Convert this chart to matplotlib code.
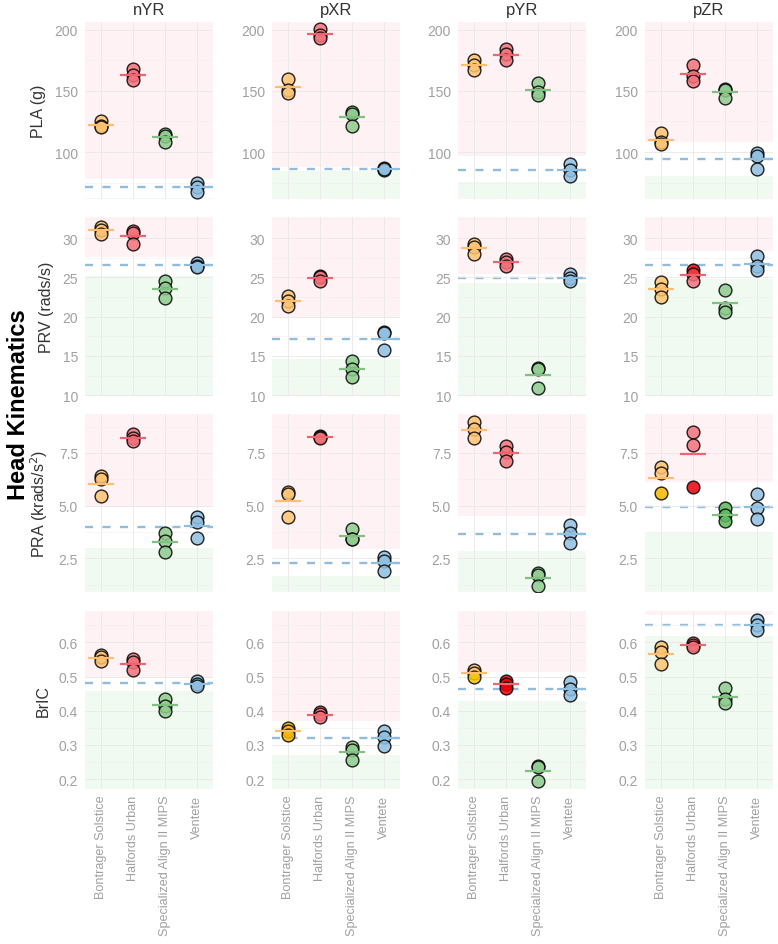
import numpy as np
import matplotlib.pyplot as plt
from matplotlib.ticker import FormatStrFormatter, FixedLocator

plt.rcParams['font.family'] = ['Liberation Sans', 'DejaVu Sans']

helmets = ["Bontrager Solstice", "Halfords Urban", "Specialized Align II MIPS", "Ventete"]
axes_names = ["nYR", "pXR", "pYR", "pZR"]
metrics = ["PLA (g)", "PRV (rads/s)", "PRA (krads/s$^2$)", "BrIC"]

# trial values, per axis -> per helmet
PLA = [
    [[125, 121.5, 120.5], [168, 163, 159], [115, 113, 108.5], [75, 71, 67]],
    [[159.5, 151, 148.5], [201, 196, 193], [132.5, 131, 121.5], [86.5, 85.5, 86]],
    [[175, 171, 167.5], [184, 180, 175], [156.5, 149, 147], [90, 85, 80.5]],
    [[115.5, 108, 106.5], [171.5, 162, 158], [151.5, 151, 144], [99, 97, 86]],
]
PRV = [
    [[31.4, 31.1, 30.5], [30.9, 30.7, 29.2], [24.6, 23.6, 22.4], [26.9, 26.5, 26.3]],
    [[22.7, 22.0, 21.4], [25.2, 25.0, 24.6], [14.4, 13.3, 12.3], [18.0, 17.9, 15.7]],
    [[29.2, 28.9, 28.0], [27.3, 27.0, 26.5], [13.5, 13.4, 10.9], [25.4, 24.9, 24.5]],
    [[24.4, 23.5, 22.5], [26.0, 25.5, 24.6], [23.4, 21.1, 20.6], [27.7, 26.4, 26.0]],
]
PRA = [
    [[6.4, 6.25, 5.45], [8.4, 8.2, 8.05], [3.7, 3.3, 2.8], [4.45, 4.2, 3.45]],
    [[5.65, 5.55, 4.45], [8.3, 8.25, 8.2], [3.9, 3.42, 3.42], [2.55, 2.35, 1.92]],
    [[8.95, 8.65, 8.2], [7.85, 7.55, 7.1], [1.8, 1.7, 1.2], [4.1, 3.7, 3.22]],
    [[6.85, 6.55, 5.6], [8.5, 7.9, 5.9], [4.9, 4.55, 4.25], [5.55, 4.9, 4.35]],
]
BrIC = [
    [[0.562, 0.556, 0.546], [0.552, 0.543, 0.518], [0.435, 0.415, 0.40], [0.487, 0.478, 0.473]],
    [[0.35, 0.34, 0.33], [0.396, 0.39, 0.381], [0.295, 0.285, 0.255], [0.342, 0.322, 0.296]],
    [[0.52, 0.51, 0.50], [0.488, 0.477, 0.468], [0.238, 0.236, 0.193], [0.483, 0.463, 0.445]],
    [[0.588, 0.572, 0.538], [0.598, 0.592, 0.586], [0.466, 0.433, 0.424], [0.665, 0.65, 0.636]],
]
all_data = [PLA, PRV, PRA, BrIC]

# reference band per panel: (upper, reference, lower)
bands = [
    [(77.9, 71.1, 62.3), (87.7, 86.1, 84.7), (97.0, 85.5, 75.7), (108, 94.3, 80.6)],
    [(27.55, 26.57, 25.2), (19.8, 17.2, 14.6), (25.4, 24.9, 24.25), (28.4, 26.6, 24.8)],
    [(4.95, 4.0, 2.98), (2.94, 2.28, 1.65), (4.5, 3.67, 2.86), (6.14, 4.92, 3.74)],
    [(0.497, 0.48, 0.458), (0.37, 0.32, 0.27), (0.512, 0.465, 0.429), (0.68, 0.65, 0.618)],
]

ylims = [(61.5, 206.5), (9.9, 32.7), (0.9, 9.35), (0.171, 0.692)]
yticks = [[100, 150, 200], [10, 15, 20, 25, 30], [2.5, 5.0, 7.5], [0.2, 0.3, 0.4, 0.5, 0.6]]
yfmt = ['%d', '%d', '%.1f', '%.1f']

fills = ["#FDC474", "#F2727A", "#8FCB8F", "#8FBFE0"]
lines = ["#FDBF6F", "#EE6470", "#80C080", "#8FBFE0"]
edge_alpha = [0.4, 0.4, 0.4, 0.75]

# points drawn in stronger colours: (row, col, helmet, trial, colour)
strong = [
    (3, 3, 0, 2, "#F5B800"), (3, 3, 1, 2, "#E8000B"),
    (3, 3, 2, 0, "#5CB85C"), (3, 3, 2, 1, "#5CB85C"), (3, 3, 2, 2, "#5CB85C"),
    (4, 1, 0, 0, "#F5B800"), (4, 1, 0, 1, "#F5B800"), (4, 1, 0, 2, "#F5B800"),
    (4, 2, 0, 2, "#F5C800"), (4, 2, 1, 0, "#E8000B"), (4, 2, 1, 1, "#E8000B"), (4, 2, 1, 2, "#E8000B"),
    (2, 3, 1, 0, "#E8000B"), (2, 3, 1, 1, "#E84040"),
]

fig = plt.figure(figsize=(7.78, 9.45), dpi=100)
W, H = 778.0, 945.0
col_x = [85, 272, 458, 645]
row_y = [(23, 200), (218, 397), (415, 593), (612, 790)]
pw = 128

xs = np.arange(1, 5)
for r in range(4):
    for c in range(4):
        top, bot = row_y[r]
        ax = fig.add_axes([col_x[c] / W, 1 - bot / H, pw / W, (bot - top) / H])
        lo, hi = ylims[r]
        up, ref, low = bands[r][c]
        ax.axhspan(up, hi, color="#FFF2F4", zorder=0, lw=0)
        ax.axhspan(lo, low, color="#F1FAF1", zorder=0, lw=0)
        ax.yaxis.set_major_locator(FixedLocator(yticks[r]))
        step = yticks[r][1] - yticks[r][0]
        minors = np.arange(yticks[r][0] - step / 2, hi, step)
        ax.yaxis.set_minor_locator(FixedLocator(minors))
        ax.grid(True, which='major', color="#E8E8E8", lw=0.6, zorder=0.5)
        ax.grid(True, which='minor', axis='y', color="#F0F0F0", lw=0.4, zorder=0.5)
        ax.axhline(ref, color="#93BCDB", lw=1.7, dashes=(3.4, 4), zorder=1)

        vals = all_data[r][c]
        for h in range(4):
            for t, v in enumerate(vals[h]):
                fc = fills[h]
                ec = (0, 0, 0, edge_alpha[h])
                for (sr, sc, sh, st, col) in strong:
                    if sr == r + 1 and sc == c and sh == h and st == t:
                        fc = col
                        ec = (0, 0, 0, 0.9)
                ax.plot(xs[h], v, 'o', ms=9.2, mfc=fc, mec=ec, mew=1.0, alpha=0.85, zorder=3)
            ax.hlines(np.mean(vals[h]), xs[h] - 0.42, xs[h] + 0.42, color=lines[h], lw=1.6, zorder=4)

        ax.set_xlim(0.5, 4.5)
        ax.set_ylim(lo, hi)
        ax.yaxis.set_major_formatter(FormatStrFormatter(yfmt[r]))
        ax.set_xticks(xs)
        if r == 3:
            ax.set_xticklabels(helmets, rotation=90, color="#9A9A9A")
        else:
            ax.set_xticklabels([])
        ax.tick_params(axis='both', which='both', length=0, labelsize=10, labelcolor="#A0A0A0", pad=5)
        ax.tick_params(axis='x', labelsize=9.1, pad=4)
        for s in ax.spines.values():
            s.set_visible(False)
        if r == 0:
            ax.set_title(axes_names[c], fontsize=12, color="#333333", pad=6)
        if c == 0:
            ax.set_ylabel(metrics[r], fontsize=11.5, color="#333333", labelpad=6)

fig.text(0.024, 1 - 405 / H, "Head Kinematics", rotation=90, fontsize=17, fontweight='bold',
         ha='center', va='center', color="black")

plt.savefig("out.png", dpi=100)
